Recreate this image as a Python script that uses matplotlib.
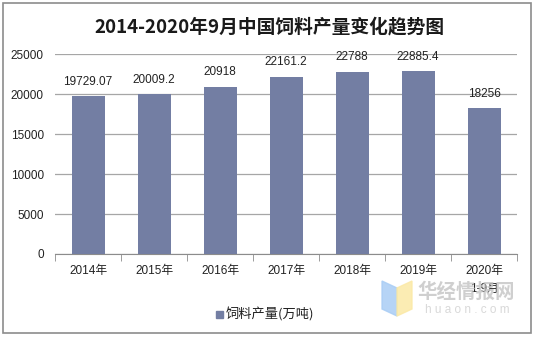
import matplotlib.pyplot as plt
import matplotlib.patches as mpatches
import numpy as np

plt.rcParams['font.family'] = ['Liberation Sans', 'Noto Sans CJK SC', 'DejaVu Sans']

# 饲料产量 (万吨)
years = ['2014年', '2015年', '2016年', '2017年', '2018年', '2019年', '2020年\n1-9月']
output = [19729.07, 20009.2, 20918, 22161.2, 22788, 22885.4, 18256]
labels = ['19729.07', '20009.2', '20918', '22161.2', '22788', '22885.4', '18256']

bar_color = '#737ea3'
W, H = 535, 337

fig = plt.figure(figsize=(W / 100, H / 100), dpi=100)
ax = fig.add_axes([55 / W, 1 - 254 / H, 462 / W, 200 / H])

x = np.arange(len(years))
ax.bar(x, output, width=0.5, color=bar_color, zorder=3)
for xi, v, s in zip(x, output, labels):
    ax.annotate(s, (xi, v), xytext=(0, 6), textcoords='offset points',
                ha='center', va='bottom', fontsize=8.5, color='#222222')

ax.set_xlim(-0.5, len(years) - 0.5)
ax.set_ylim(0, 25000)
ax.set_yticks(range(0, 25001, 5000))
ax.yaxis.grid(True, color='#a6a6a6', linewidth=0.9, zorder=0)
ax.tick_params(axis='y', length=0, labelsize=8.5, pad=8, labelcolor='#222222')

ax.set_xticks(x)
ax.set_xticklabels(years, fontsize=8.5, color='#222222', linespacing=1.6)
ax.set_xticks(np.arange(-0.5, len(years)), minor=True)
ax.tick_params(axis='x', which='major', length=0, pad=8)
ax.tick_params(axis='x', which='minor', length=5, color='#8c8c8c')

for side in ['top', 'right', 'left']:
    ax.spines[side].set_visible(False)
ax.spines['bottom'].set_color('#8c8c8c')

fig.text(269 / W, 1 - 27 / H, '2014-2020年9月中国饲料产量变化趋势图',
         ha='center', va='center', fontsize=13.5, fontweight='bold',
         family=['Noto Sans CJK SC'], color='#1a1a1a')

# legend
fig.patches.append(mpatches.Rectangle((216 / W, 1 - 318 / H), 7 / W, 7 / H,
                                      transform=fig.transFigure,
                                      color=bar_color))
fig.text(226 / W, 1 - 314 / H, '饲料产量(万吨)', ha='left', va='center',
         fontsize=9.5, family=['Noto Sans CJK SC'], color='#222222')

# watermark
fig.patches.append(mpatches.Polygon(
    [(382 / W, 1 - 281 / H), (397 / W, 1 - 288 / H), (397 / W, 1 - 316 / H),
     (382 / W, 1 - 309 / H)], closed=True, transform=fig.transFigure,
    color='#a9cdf5', alpha=0.85))
fig.patches.append(mpatches.Polygon(
    [(397 / W, 1 - 288 / H), (412 / W, 1 - 281 / H), (412 / W, 1 - 309 / H),
     (397 / W, 1 - 316 / H)], closed=True, transform=fig.transFigure,
    color='#fbe9a6', alpha=0.85))
fig.text(466 / W, 1 - 292 / H, '华经情报网', ha='center', va='center',
         fontsize=14, fontweight='bold', family=['Noto Sans CJK SC'],
         color='#c4c4c4', alpha=0.8)
fig.text(467 / W, 1 - 310 / H, 'h u a o n . c o m', ha='center', va='center',
         fontsize=8.5, color='#cfcfcf', alpha=0.8)

# outer frame
fig.patches.append(mpatches.Rectangle((3 / W, 1 - 333 / H), 528 / W, 330 / H,
                                      transform=fig.transFigure, fill=False,
                                      edgecolor='#8c8c8c', linewidth=1.2))

fig.savefig('out.png', dpi=100)
